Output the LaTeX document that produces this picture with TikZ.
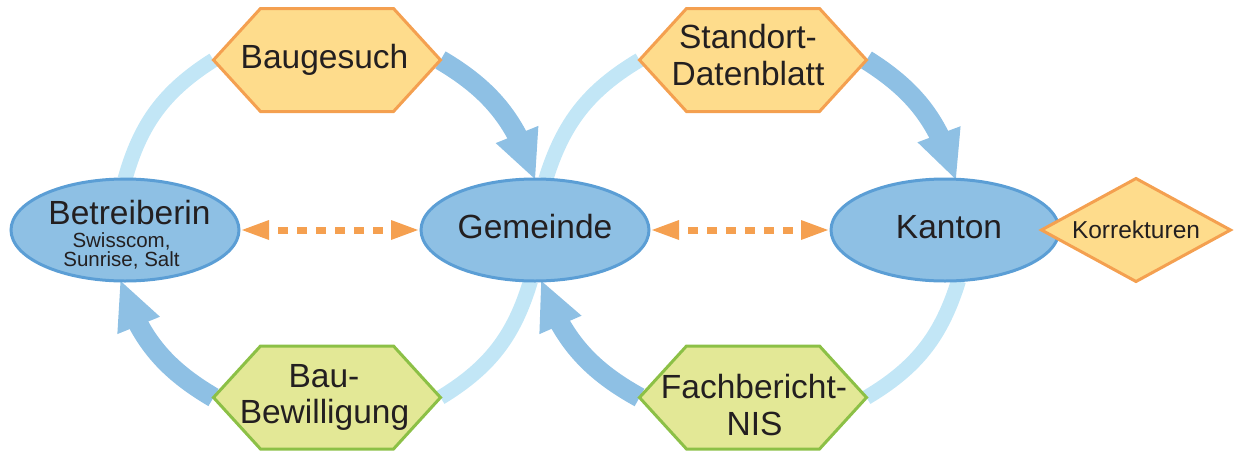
\documentclass[tikz,border=0pt]{standalone}
\usepackage{fontspec}
\setmainfont{Liberation Sans}
\usetikzlibrary{shapes.geometric,arrows.meta,bending,backgrounds}
\definecolor{ellfill}{HTML}{8EC0E4}
\definecolor{ellline}{HTML}{5B9ED5}
\definecolor{darkarc}{HTML}{8EC0E4}
\definecolor{lightarc}{HTML}{C2E6F6}
\definecolor{orfill}{HTML}{FEDC8C}
\definecolor{orline}{HTML}{F4A050}
\definecolor{grfill}{HTML}{E3E896}
\definecolor{grline}{HTML}{8CC046}
\definecolor{dashcol}{HTML}{F5A050}
\definecolor{txt}{HTML}{231F20}
\begin{document}
\begin{tikzpicture}[x=1pt,y=1pt,
  ell/.style={ellipse,draw=ellline,fill=ellfill,line width=3pt,minimum width=228pt,minimum height=102pt,inner sep=0pt,outer sep=0pt},
  hexbox/.style={rectangle,minimum width=227pt,minimum height=103pt,inner sep=0pt,outer sep=0pt},
  hexor/.style={fill=orfill,draw=orline,line width=3pt},
  hexgr/.style={fill=grfill,draw=grline,line width=3pt},
  bigtxt/.style={anchor=base,inner sep=0pt,text=txt,font=\fontsize{33.5pt}{36pt}\selectfont},
  smalltxt/.style={anchor=base,inner sep=0pt,text=txt,font=\fontsize{20.5pt}{22pt}\selectfont},
  kortxt/.style={anchor=base,inner sep=0pt,text=txt,font=\fontsize{24.5pt}{26pt}\selectfont},
  flowarr/.style={draw=darkarc,line width=20pt,-{Triangle[length=48pt,width=46pt,line width=0pt,flex=1]}},
  retarc/.style={draw=lightarc,line width=15pt},
  dasharr/.style={draw=dashcol,line width=7pt,dash pattern=on 10pt off 9pt,dash phase=10pt,{Triangle[length=27pt,width=20pt,line width=0pt]}-{Triangle[length=27pt,width=20pt,line width=0pt]},shorten <=3pt,shorten >=3pt}
]
\useasboundingbox (0,0) rectangle (1238,-453);
% ellipses
\node[ell] (bet) at (125,-230) {};
\node[ell] (gem) at (535,-230) {};
\node[ell] (kan) at (945,-230) {};
\node[diamond,fill=orfill,draw=orline,line width=3pt,minimum width=189pt,minimum height=103pt,inner sep=0pt,outer sep=0pt] (kor) at (1136,-230) {};
% hexagons
\node[hexbox] (baug) at (327,-60) {};
\node[hexbox] (std) at (753,-60) {};
\node[hexbox] (bew) at (327,-397.5) {};
\node[hexbox] (fach) at (753,-397.5) {};
\foreach \h/\s in {baug/hexor,std/hexor,bew/hexgr,fach/hexgr}
  \path[\s] (\h.west) -- ([xshift=47pt]\h.north west) -- ([xshift=-47pt]\h.north east) -- (\h.east) -- ([xshift=-47pt]\h.south east) -- ([xshift=47pt]\h.south west) -- cycle;
% texts
\node[bigtxt] (tbet) at (129.5,-224) {Betreiberin};
\node[smalltxt] (tbet2) at (121.5,-247) {Swisscom,};
\node[smalltxt] (tbet3) at (121.5,-266) {Sunrise, Salt};
\node[bigtxt] (tgem) at (535,-238) {Gemeinde};
\node[bigtxt] (tkan) at (949,-238) {Kanton};
\node[kortxt] (tkor) at (1136,-238) {Korrekturen};
\node[bigtxt] (tbaug) at (324.5,-68) {Baugesuch};
\node[bigtxt] (tstd1) at (748,-48) {Standort-};
\node[bigtxt] (tstd2) at (748,-85) {Datenblatt};
\node[bigtxt] (tbew1) at (324,-387) {Bau-};
\node[bigtxt] (tbew2) at (324.5,-423) {Bewilligung};
\node[bigtxt] (tfach1) at (754,-398) {Fachbericht-};
\node[bigtxt] (tfach2) at (754.5,-435) {NIS};
% dashed arrows
\draw[dasharr] (bet.east) -- (gem.west);
\draw[dasharr] (gem.east) -- (kan.west);
% cycles
\begin{scope}[on background layer]
\draw[retarc] (bet.north) to[bend left=21] (baug.west);
\draw[flowarr] (baug.east) to[bend left=21] (gem.north);
\draw[retarc] (gem.265) to[bend left=21] (bew.east);
\draw[flowarr] (bew.west) to[bend left=21] (bet.265);
\draw[retarc] (gem.78) to[bend left=21] (std.west);
\draw[flowarr] (std.east) to[bend left=21] (kan.78);
\draw[retarc] (kan.285) to[bend left=21] (fach.east);
\draw[flowarr] (fach.west) to[bend left=21] (gem.277);
\end{scope}
\end{tikzpicture}
\end{document}
